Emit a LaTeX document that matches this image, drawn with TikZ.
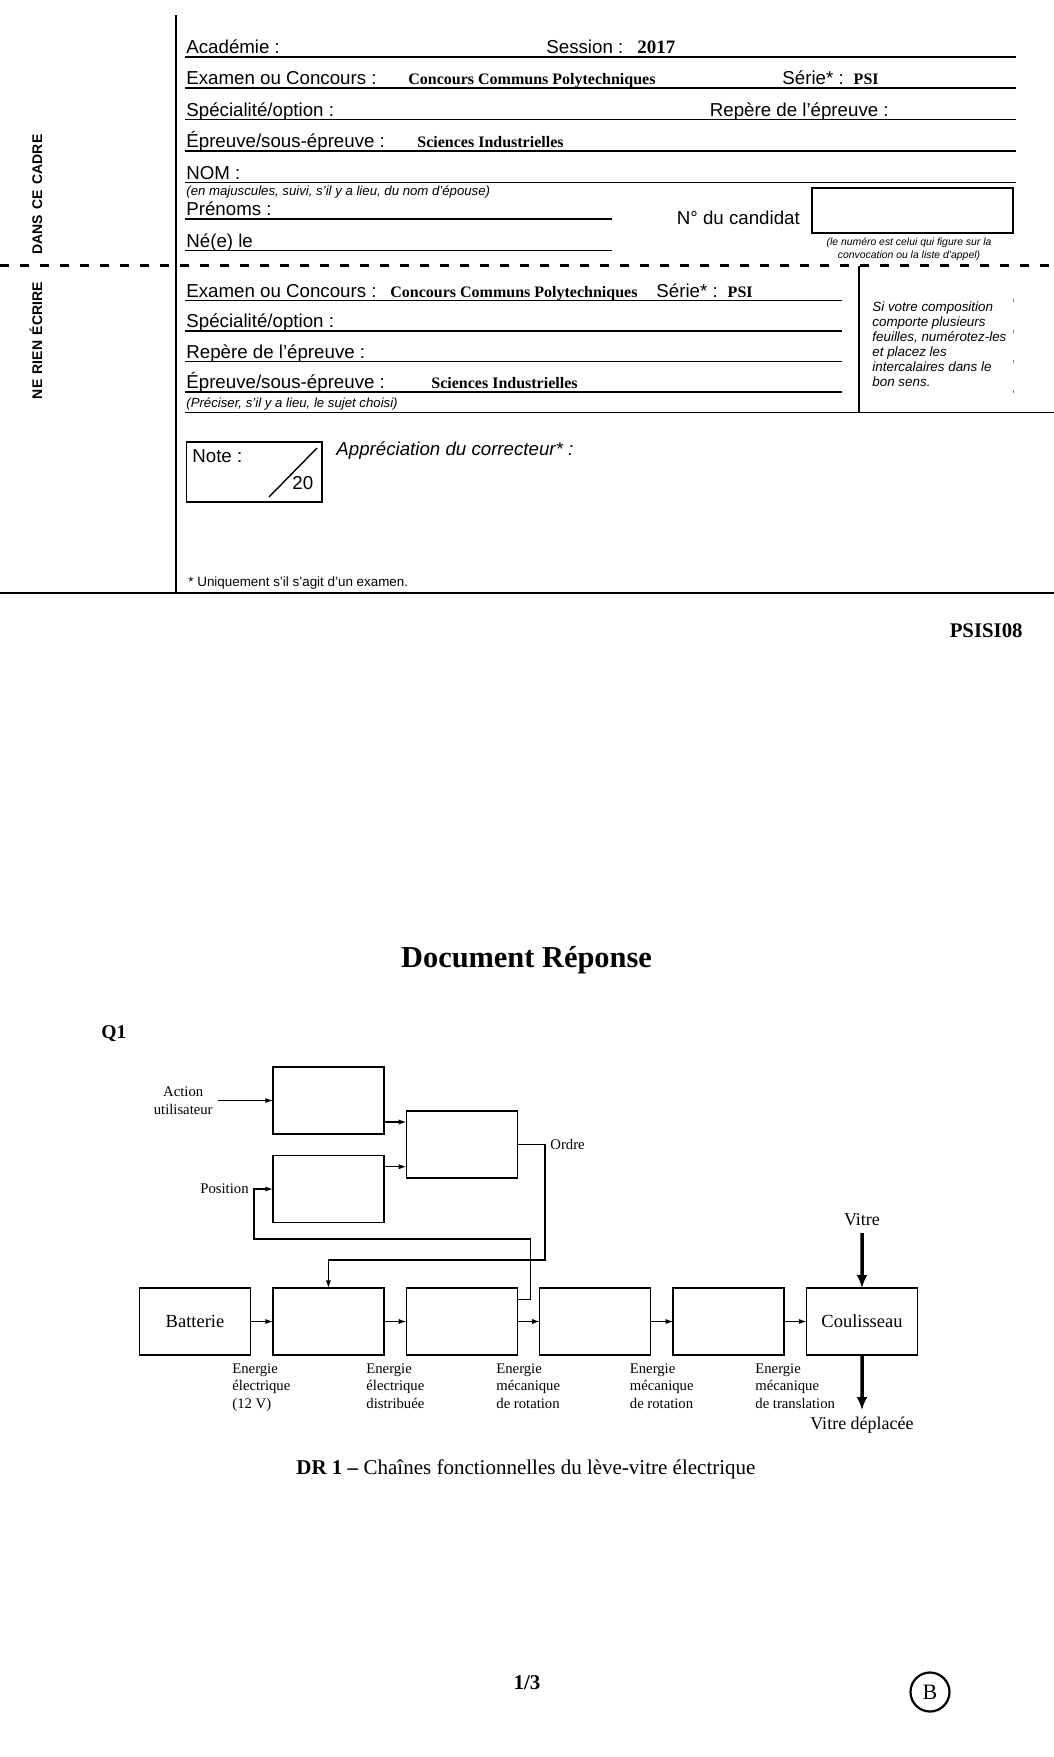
\documentclass[tikz,border=0pt]{standalone}
\usepackage{fontspec}
\setmainfont{Liberation Serif}
\setsansfont{Liberation Sans}
\usetikzlibrary{arrows.meta,positioning}
\newcommand{\hdrfont}{\sffamily\fontsize{9.35}{11}\selectfont}
\newcommand{\valfont}{\rmfamily\bfseries\fontsize{8}{10}\selectfont}
\newcommand{\minifont}{\sffamily\itshape\fontsize{6.6}{8}\selectfont}
\newcommand{\blocfont}{\rmfamily\fontsize{9.25}{11}\selectfont}
\newcommand{\energfont}{\rmfamily\fontsize{7.35}{8.9}\selectfont}
\newcommand{\vitrefont}{\rmfamily\fontsize{9}{11}\selectfont}

\begin{document}
\begin{tikzpicture}[x=0.5pt, y=-0.5pt,
  >={Latex[length=3.8pt,width=2.6pt]},
  hdr/.style={anchor=base west,inner sep=0pt,font=\hdrfont},
  val/.style={anchor=base west,inner sep=0pt,font=\valfont},
  mini/.style={anchor=base west,inner sep=0pt,font=\minifont},
  regle/.style={line width=0.9pt},
  bloc/.style={draw,line width=0.7pt,minimum width=55.5pt,minimum height=33.5pt,inner sep=0pt,outer sep=0pt,font=\blocfont},
  flux/.style={->,line width=0.6pt},
  matiere/.style={-{Latex[length=6.5pt,width=5.5pt]},line width=1.75pt},
  energie/.style={anchor=north west,align=left,inner sep=0pt,font=\energfont},
  etiq/.style={inner sep=0pt,font=\energfont},
]
\useasboundingbox (0,0) rectangle (1054,1757);

% --- en-tete : partie haute ---
\draw[line width=1pt] (176,15) -- (176,593);
\draw[regle] (185,57) -- (1016,57);
\draw[regle] (185,88) -- (1016,88);
\draw[regle] (185,119.5) -- (1016,119.5);
\draw[regle] (185,151) -- (1016,151);
\draw[regle] (185,182.5) -- (1016,182.5);
\draw[regle] (185,219) -- (612,219);
\draw[regle] (185,250.5) -- (612,250.5);
\node[hdr] (acad) at (186,53.5) {Académie :};
\node[hdr] (sess) at (546,53.5) {Session :\hspace{7pt}{\rmfamily\bfseries\fontsize{9.5}{11}\selectfont 2017}};
\node[hdr] (exam) at (186,84.5) {Examen ou Concours :};
\node[val] (conc) at (408,84.5) {Concours Communs Polytechniques};
\node[hdr] (serie) at (782,84.5) {Série* :\hspace{5pt}{\valfont PSI}};
\node[hdr] (spec) at (186,116) {Spécialité/option :};
\node[hdr] (rep) at (709.5,116) {Repère de l’épreuve :};
\node[hdr] (epr) at (186,147.5) {Épreuve/sous-épreuve :};
\node[val] (sci) at (417,147.5) {Sciences Industrielles};
\node[hdr] (nom) at (186,179) {NOM :};
\node[mini] (nomaide) at (186,195) {(en majuscules, suivi, s’il y a lieu, du nom d’épouse)};
\node[hdr] (pren) at (186,215.5) {Prénoms :};
\node[hdr] (ne) at (186,247) {Né(e) le};
\node[hdr] (ncand) at (676.5,224) {N° du candidat};
\node[draw,line width=0.8pt,minimum width=100.5pt,minimum height=22.5pt,inner sep=0pt] (numbox) at (912.5,210.5) {};
\node[anchor=base,align=center,inner sep=0pt,font=\sffamily\itshape\fontsize{5.2}{6.35}\selectfont] (numaide) at (909,258.2)
  {(le numéro est celui qui figure sur la\\convocation ou la liste d’appel)};

% --- pointilles et mention verticale ---
\draw[line width=1.5pt,dash pattern=on 4.5pt off 5.5pt] (0,265.5) -- (1054,265.5);
\node[rotate=90,inner sep=0pt,font=\sffamily\bfseries\fontsize{7}{8}\selectfont] (mention) at (36,266.8)
  {NE\hspace{2.75pt}RIEN\hspace{2.75pt}ÉCRIRE\hspace{13.9pt}DANS\hspace{2.75pt}CE\hspace{2.75pt}CADRE};

% --- en-tete : partie basse ---
\draw[line width=0.8pt] (859,265.5) -- (859,412.5);
\draw[regle] (185,300.5) -- (842,300.5);
\draw[regle] (185,331) -- (842,331);
\draw[regle] (185,361.5) -- (842,361.5);
\draw[regle] (185,392) -- (842,392);
\draw[regle] (185,412.5) -- (1054,412.5);
\draw[gray,line width=0.4pt] (1013,298.5) -- (1013,301.5);
\draw[gray,line width=0.4pt] (1013,329.5) -- (1013,332.5);
\draw[gray,line width=0.4pt] (1013,359.5) -- (1013,362.5);
\draw[gray,line width=0.4pt] (1013,389.5) -- (1013,392.5);
\node[hdr] (exam2) at (186,297) {Examen ou Concours :};
\node[val] (conc2) at (390,297) {Concours Communs Polytechniques};
\node[hdr] (serie2) at (656,297) {Série* :\hspace{5pt}{\valfont PSI}};
\node[hdr] (spec2) at (186,327.5) {Spécialité/option :};
\node[hdr] (rep2) at (186,358) {Repère de l’épreuve :};
\node[hdr] (epr2) at (186,388.5) {Épreuve/sous-épreuve :};
\node[val] (sci2) at (431,388.5) {Sciences Industrielles};
\node[mini] (prec) at (186,407.5) {(Préciser, s’il y a lieu, le sujet choisi)};
\node[anchor=base west,align=left,inner sep=0pt,font=\sffamily\itshape\fontsize{6.7}{7.5}\selectfont] (compo) at (872,386)
  {Si votre composition\\comporte plusieurs\\feuilles, numérotez-les\\et placez les\\intercalaires dans le\\bon sens.};

% --- note et appreciation ---
\node[draw,line width=0.8pt,minimum width=67.8pt,minimum height=30pt,inner sep=0pt] (notebox) at (254.2,471.7) {};
\draw[line width=0.7pt] (269,497) -- (317,448);
\node[hdr] (note) at (192,462.5) {Note :};
\node[hdr] (sur) at (292,489.5) {20};
\node[hdr,font=\hdrfont\itshape] (appr) at (336,455) {Appréciation du correcteur* :};
\node[hdr,font=\sffamily\fontsize{6.7}{8}\selectfont] (uniq) at (188,586.5) {* Uniquement s’il s’agit d’un examen.};
\draw[regle] (0,593) -- (1054,593);

\node[anchor=base east,inner sep=0pt,font=\rmfamily\bfseries\fontsize{10.4}{12}\selectfont] (code) at (1023,637) {PSISI08};
\node[anchor=base,inner sep=0pt,font=\rmfamily\bfseries\fontsize{15.2}{18}\selectfont] (titre) at (526.5,967) {Document Réponse};
\node[anchor=base west,inner sep=0pt,font=\rmfamily\bfseries\fontsize{9.75}{12}\selectfont] (q1) at (101,1038) {Q1};

% --- chaine d'energie ---
\node[bloc] (bat) at (195,1321.5) {Batterie};
\node[bloc,right=11.2pt of bat] (dist) {};
\node[bloc,right=11.2pt of dist] (conv) {};
\node[bloc,right=11.2pt of conv] (red) {};
\node[bloc,right=11.2pt of red] (trans) {};
\node[bloc,right=11.2pt of trans] (coul) {Coulisseau};
\draw[flux] (bat) -- (dist);
\draw[flux] (dist) -- (conv);
\draw[flux] (conv) -- (red);
\draw[flux] (red) -- (trans);
\draw[flux] (trans) -- (coul);
\node[energie] (e1) at (232,1363) {Energie\\électrique\\(12 V)};
\node[energie] (e2) at (366,1363) {Energie\\électrique\\distribuée};
\node[energie] (e3) at (496,1363) {Energie\\mécanique\\de rotation};
\node[energie] (e4) at (629.5,1363) {Energie\\mécanique\\de rotation};
\node[energie] (e5) at (755,1363) {Energie\\mécanique\\de translation};

% --- matiere d'oeuvre ---
\coordinate (vitrein) at (862,1233);
\coordinate (vdep) at (862,1410);
\draw[matiere] (vitrein) -- (coul.north);
\draw[matiere] (coul.south) -- (vdep);
\node[etiq,font=\vitrefont,above=3.5pt of vitrein] (vitrelbl) {Vitre};
\node[etiq,font=\vitrefont,below=3.5pt of vdep] (vdeplbl) {Vitre déplacée};

% --- chaine d'information ---
\node[bloc] (acq) at (328.4,1100.5) {};
\node[bloc] (capt) at (328.4,1189) {};
\node[bloc] (trait) at (461.8,1144.5) {};
\coordinate (action) at (218,1100.5);
\node[etiq,align=center,left=2.5pt of action] (actlbl) {Action\\utilisateur};
\draw[flux] (action) -- (acq);
\coordinate (acqout) at ([yshift=-10.75pt]acq.east);
\coordinate (captout) at ([yshift=11.15pt]capt.east);
\draw[flux] (acqout) -- (acqout -| trait.west);
\draw[flux] (captout) -- (captout -| trait.west);
\coordinate (ordre) at (545,1144.5);
\coordinate (ordrebas) at (545,1260);
\draw[flux] (trait.east) -- (ordre) -- (ordrebas) -| (dist.north);
\node[etiq,right=2.5pt of ordre] (ordrelbl) {Ordre};
\coordinate (posout) at ([yshift=10.9pt]conv.east);
\coordinate (retour) at (530.5,1239);
\coordinate (posin) at (254,1189);
\draw[flux] (posout) -| (retour) -| (posin) -- (capt.west);
\node[etiq,left=2.5pt of posin] (poslbl) {Position};

% --- legende et pied de page ---
\node[anchor=base west,inner sep=0pt,font=\rmfamily\fontsize{10.5}{12.5}\selectfont] (legende) at (296,1474.5)
  {\textbf{DR 1 –} Chaînes fonctionnelles du lève-vitre électrique};
\node[anchor=base,inner sep=0pt,font=\rmfamily\bfseries\fontsize{10.5}{12}\selectfont] (page) at (527,1689) {1/3};
\node[circle,draw,line width=1.1pt,minimum size=19.5pt,inner sep=0pt,font=\rmfamily\fontsize{11}{13}\selectfont] (lettre) at (930,1692) {B};
\end{tikzpicture}
\end{document}
